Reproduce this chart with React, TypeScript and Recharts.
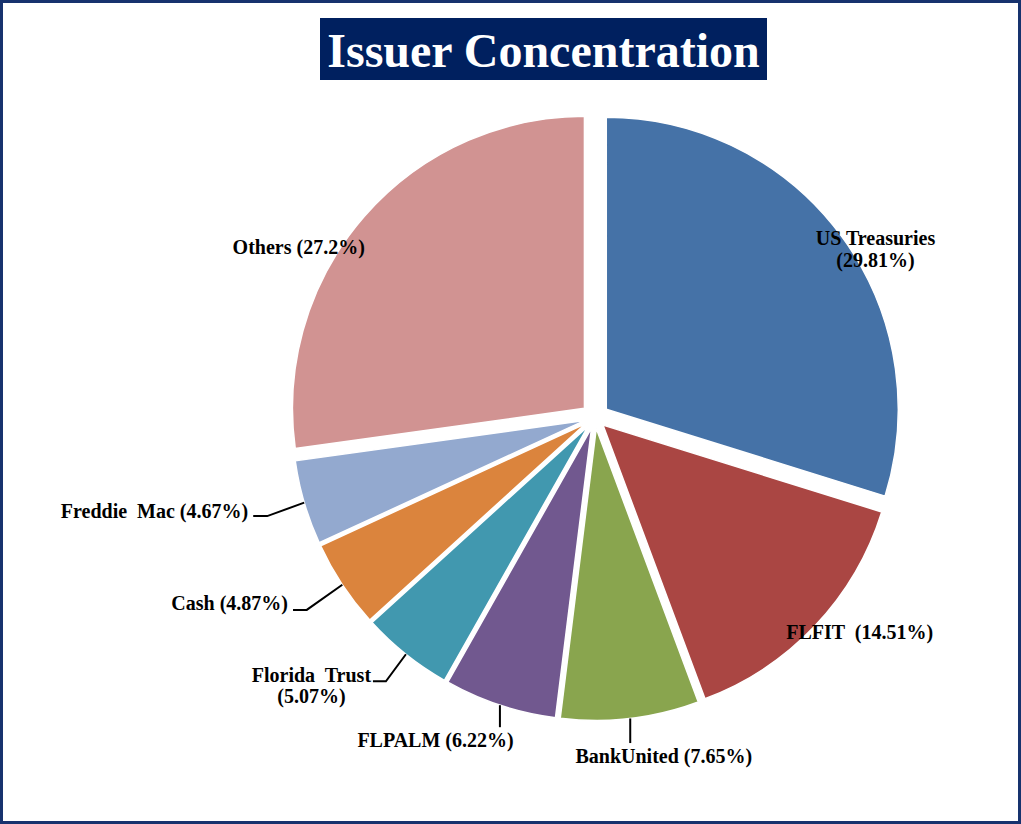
import React from 'react';
import { PieChart, Pie, Cell, Sector } from 'recharts';

const categories = ['US Treasuries', 'FLFIT', 'BankUnited', 'FLPALM', 'Florida Trust', 'Cash', 'Freddie Mac', 'Others'];
const values = [29.81, 14.51, 7.65, 6.22, 5.07, 4.87, 4.67, 27.2];
const labelTexts = [
  ['US Treasuries', '(29.81%)'],
  ['FLFIT  (14.51%)'],
  ['BankUnited (7.65%)'],
  ['FLPALM (6.22%)'],
  ['Florida  Trust', '(5.07%)'],
  ['Cash (4.87%)'],
  ['Freddie  Mac (4.67%)'],
  ['Others (27.2%)'],
];

const COLORS = ['#4572A7', '#AA4643', '#89A54E', '#71588F', '#4198AF', '#DB843D', '#93A9CF', '#D19392'];
const EXPLODE = [14, 11, 11, 11, 11, 11, 11, 14];

// label layout relative to the slice's outer-edge midpoint
type Layout = {
  line?: [number, number][];
  tx: number;
  ty: number[];
  anchor: 'start' | 'middle' | 'end';
};
const LAYOUT: Layout[] = [
  { tx: 34, ty: [8.7, 30.7], anchor: 'middle' },
  { tx: 44.7, ty: [13.3], anchor: 'middle' },
  { line: [[0, 0], [0, 24.6]], tx: 33.6, ty: [44.6], anchor: 'middle' },
  { line: [[0, 0], [0, 22]], tx: -64.4, ty: [42], anchor: 'middle' },
  { line: [[0, 0], [-20, 27], [-33, 27]], tx: -94.5, ty: [28, 49], anchor: 'middle' },
  { line: [[0, 0], [-35.6, 25.2], [-49.3, 25.2]], tx: -54.3, ty: [25.2], anchor: 'end' },
  { line: [[0, 0], [-37, 13.4], [-51, 13.4]], tx: -56, ty: [15.4], anchor: 'end' },
  { tx: -65.5, ty: [37], anchor: 'middle' },
];

const data = categories.map((name, i) => ({ name, value: values[i] }));

const RAD = Math.PI / 180;

const ExplodedSector = (props: any) => {
  const i = props.index ?? 0;
  const e = EXPLODE[i] ?? 0;
  const dx = e * Math.cos(-props.midAngle * RAD);
  const dy = e * Math.sin(-props.midAngle * RAD);
  return <Sector {...props} cx={props.cx + dx} cy={props.cy + dy} />;
};

const renderLabel = (props: any) => {
  const { cx, cy, midAngle, outerRadius, index } = props;
  const e = EXPLODE[index] ?? 0;
  const ax = cx + (outerRadius + e) * Math.cos(-midAngle * RAD);
  const ay = cy + (outerRadius + e) * Math.sin(-midAngle * RAD);
  const lay = LAYOUT[index];
  const lines = labelTexts[index];
  return (
    <g key={`lbl-${index}`}>
      {lay.line && (
        <polyline
          points={lay.line.map(([x, y]) => `${ax + x},${ay + y}`).join(' ')}
          fill="none"
          stroke="#000"
          strokeWidth={2}
        />
      )}
      {lines.map((t, k) => (
        <text
          key={k}
          x={ax + lay.tx}
          y={ay + lay.ty[k]}
          textAnchor={lay.anchor}
          fill="#000"
          fontFamily="'Liberation Serif', 'Times New Roman', serif"
          fontWeight="bold"
          fontSize={20}
          style={{ whiteSpace: 'pre' }}
        >
          {t}
        </text>
      ))}
    </g>
  );
};

export default function App() {
  return (
    <div style={{ position: 'absolute', left: 0, top: 0, width: 1021, height: 824, background: '#fff' }}>
      <div style={{ position: 'absolute', left: 0, top: 0 }}>
        <PieChart width={1021} height={824} margin={{ top: 0, right: 0, bottom: 0, left: 0 }}>
          <Pie
            data={data}
            dataKey="value"
            nameKey="name"
            cx={595}
            cy={417.5}
            outerRadius={292}
            startAngle={90}
            endAngle={-270}
            stroke="#fff"
            strokeWidth={1.5}
            isAnimationActive={false}
            shape={ExplodedSector}
            label={renderLabel}
            labelLine={false}
          >
            {data.map((d, i) => (
              <Cell key={d.name} fill={COLORS[i]} />
            ))}
          </Pie>
        </PieChart>
      </div>
      <div
        style={{
          position: 'absolute',
          left: 320,
          top: 18,
          width: 447,
          height: 62,
          background: '#00205F',
          color: '#fff',
          fontFamily: "'Liberation Serif', 'Times New Roman', serif",
          fontWeight: 'bold',
          fontSize: 48,
          lineHeight: '62px',
          textAlign: 'center',
          whiteSpace: 'nowrap',
          paddingTop: 2,
          boxSizing: 'border-box',
        }}
      >
        Issuer Concentration
      </div>
      <div
        style={{
          position: 'absolute',
          left: 0,
          top: 0,
          width: 1021,
          height: 824,
          boxSizing: 'border-box',
          border: '3px solid #17326E',
          pointerEvents: 'none',
        }}
      />
    </div>
  );
}
